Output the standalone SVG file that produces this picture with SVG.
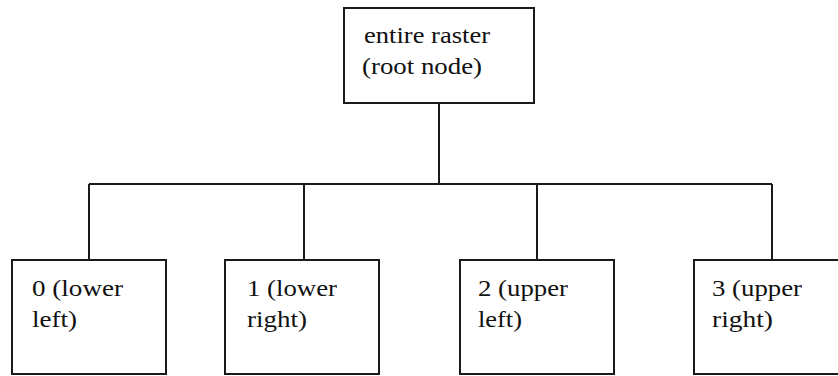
<svg xmlns="http://www.w3.org/2000/svg" width="838" height="376" viewBox="0 0 838 376">
<style>
.box{fill:#fff;stroke:#1a1a1a;stroke-width:2}
.ln{fill:none;stroke:#1a1a1a;stroke-width:2}
.t{font-family:"Times New Roman","Liberation Serif","DejaVu Serif",serif;font-size:23px;fill:#111}
</style>
<rect width="838" height="376" fill="#fff"/>
<g id="connectors">
<path class="ln" d="M439 103V184M89 184H772M89 184V260M304 184V260M537 184V260M772 184V260"/>
</g>
<g id="root">
<rect class="box" x="344" y="8" width="190" height="95"/>
<text class="t" x="364" y="43" textLength="126" lengthAdjust="spacingAndGlyphs">entire raster</text>
<text class="t" x="362" y="74" textLength="120" lengthAdjust="spacingAndGlyphs">(root node)</text>
</g>
<g id="n0">
<rect class="box" x="12" y="260" width="154" height="114"/>
<text class="t" x="32" y="296" textLength="91" lengthAdjust="spacingAndGlyphs">0 (lower</text>
<text class="t" x="32" y="327" textLength="45" lengthAdjust="spacingAndGlyphs">left)</text>
</g>
<g id="n1">
<rect class="box" x="225" y="260" width="154" height="114"/>
<text class="t" x="247" y="296" textLength="90" lengthAdjust="spacingAndGlyphs">1 (lower</text>
<text class="t" x="247" y="327" textLength="60" lengthAdjust="spacingAndGlyphs">right)</text>
</g>
<g id="n2">
<rect class="box" x="460" y="260" width="154" height="114"/>
<text class="t" x="478" y="296" textLength="90" lengthAdjust="spacingAndGlyphs">2 (upper</text>
<text class="t" x="478" y="327" textLength="44" lengthAdjust="spacingAndGlyphs">left)</text>
</g>
<g id="n3">
<rect class="box" x="694" y="260" width="156" height="114"/>
<text class="t" x="712" y="296" textLength="90" lengthAdjust="spacingAndGlyphs">3 (upper</text>
<text class="t" x="712" y="327" textLength="61" lengthAdjust="spacingAndGlyphs">right)</text>
</g>
</svg>
